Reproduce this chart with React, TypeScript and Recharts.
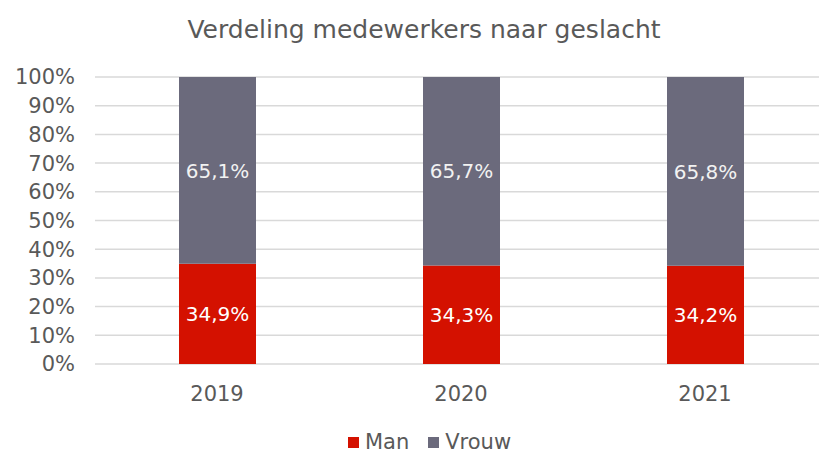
import React from "react";
import { BarChart, Bar, XAxis, YAxis, CartesianGrid, Legend, LabelList } from "recharts";

const years = ["2019", "2020", "2021"];
const man = [34.9, 34.3, 34.2];
const vrouw = [65.1, 65.7, 65.8];
const yTicks = [0, 10, 20, 30, 40, 50, 60, 70, 80, 90, 100];

const data = years.map((y, i) => ({ year: y, Man: man[i], Vrouw: vrouw[i] }));

const FONT = "'DejaVu Sans', Verdana, sans-serif";
const RED = "#D41100";
const GREY = "#6B6A7C";
const TXT = "#595959";

const fmt = (v: any) => `${Number(v).toFixed(1).replace(".", ",")}%`;

const renderLegend = (props: any) => {
  const { payload } = props;
  return (
    <div style={{ display: "flex", justifyContent: "center", paddingLeft: 40, fontFamily: FONT, fontSize: 21, color: TXT, lineHeight: "24px" }}>
      {payload.map((p: any, i: number) => (
        <div key={i} style={{ display: "flex", alignItems: "center", marginRight: i === 0 ? 19 : 0 }}>
          <span style={{ display: "inline-block", width: 11, height: 11, background: p.color, marginRight: 6 }} />
          <span>{p.value}</span>
        </div>
      ))}
    </div>
  );
};

export default function App() {
  return (
    <div style={{ position: "absolute", left: 0, top: 0, width: 819, height: 454, overflow: "hidden", background: "#fff" }}>
      <div
        style={{
          position: "absolute",
          left: 0,
          width: 848,
          top: 17,
          textAlign: "center",
          fontFamily: FONT,
          fontSize: 25,
          lineHeight: 1,
          color: TXT,
          whiteSpace: "nowrap",
        }}
      >
        Verdeling medewerkers naar geslacht
      </div>
      <BarChart
        width={830}
        height={454}
        data={data}
        margin={{ top: 77, right: 3, bottom: 36, left: 0 }}
        style={{ fontFamily: FONT }}
      >
        <CartesianGrid vertical={false} stroke="#D9D9D9" strokeWidth={1.5} />
        <XAxis
          dataKey="year"
          height={30}
          axisLine={false}
          tickLine={false}
          tickSize={0}
          tickMargin={22}
          tick={{ fill: TXT, fontSize: 21, fontFamily: FONT }}
        />
        <YAxis
          width={95}
          domain={[0, 100]}
          ticks={yTicks}
          interval={0}
          axisLine={false}
          tickLine={false}
          tickSize={0}
          tickMargin={20}
          tickFormatter={(v: number) => `${v}%`}
          tick={{ fill: TXT, fontSize: 21, fontFamily: FONT }}
        />
        <Legend
          verticalAlign="bottom"
          align="center"
          content={renderLegend}
          wrapperStyle={{ bottom: 0, left: 0, width: 819, height: 24 }}
        />
        <Bar dataKey="Man" stackId="a" fill={RED} barSize={77} isAnimationActive={false}>
          <LabelList dataKey="Man" position="center" formatter={fmt} fill="#FFFFFF" fontSize={20} fontFamily={FONT} />
        </Bar>
        <Bar dataKey="Vrouw" stackId="a" fill={GREY} barSize={77} isAnimationActive={false}>
          <LabelList dataKey="Vrouw" position="center" formatter={fmt} fill="#F2F2F2" fontSize={20} fontFamily={FONT} />
        </Bar>
      </BarChart>
    </div>
  );
}
